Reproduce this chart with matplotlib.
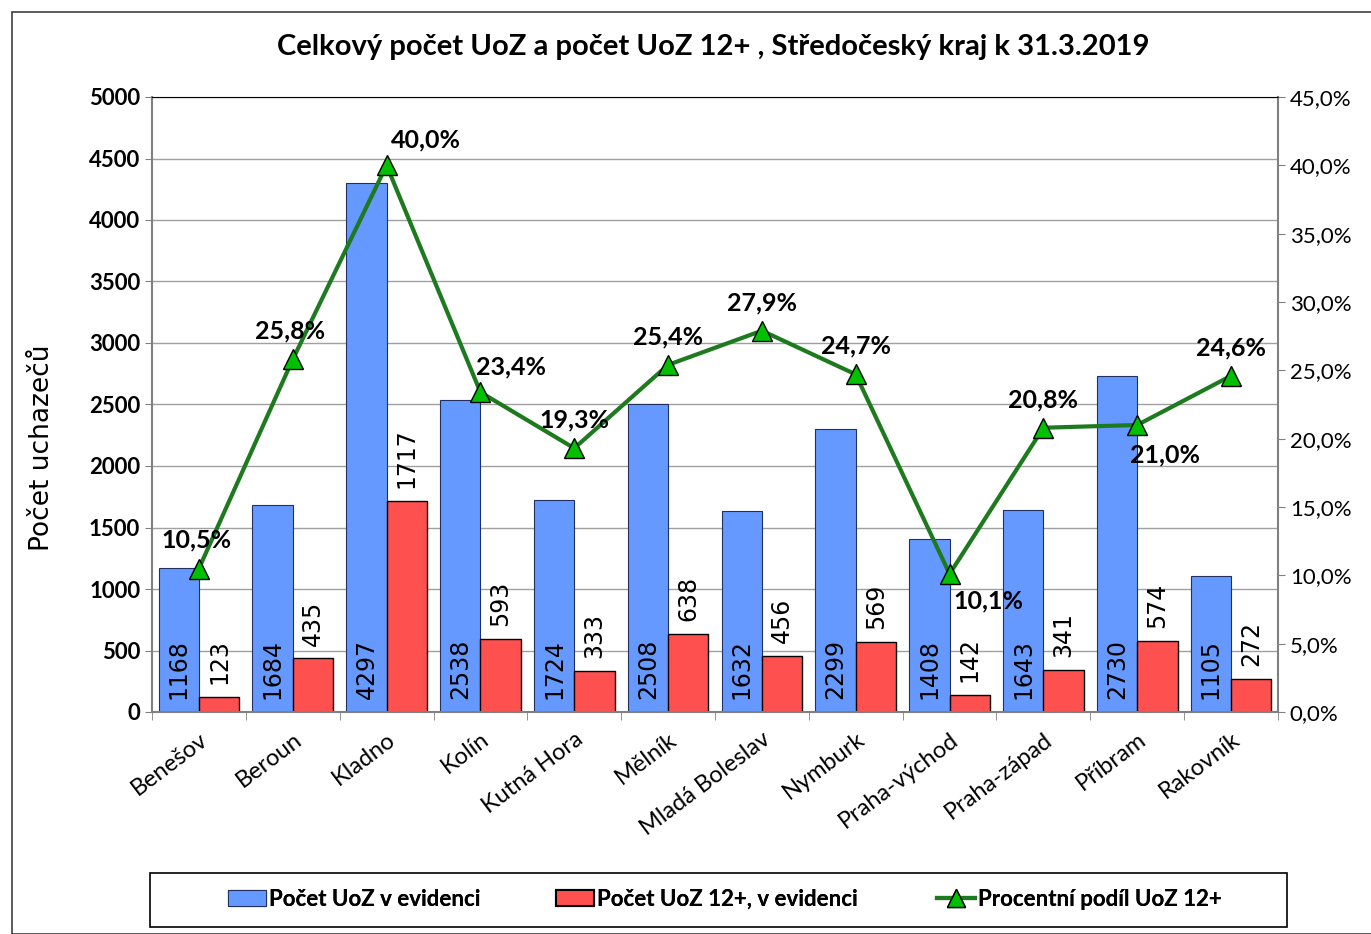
import numpy as np
import matplotlib
matplotlib.use("Agg")
import matplotlib.pyplot as plt
from matplotlib.patches import Rectangle, Patch
from matplotlib.lines import Line2D
from matplotlib.ticker import FuncFormatter

plt.rcParams['font.family'] = ['Lato', 'DejaVu Sans']

# data
okresy = ["Benešov", "Beroun", "Kladno", "Kolín", "Kutná Hora", "Mělník",
          "Mladá Boleslav", "Nymburk", "Praha-východ", "Praha-západ",
          "Příbram", "Rakovník"]
uoz_celkem = [1168, 1684, 4297, 2538, 1724, 2508, 1632, 2299, 1408, 1643, 2730, 1105]
uoz_12plus = [123, 435, 1717, 593, 333, 638, 456, 569, 142, 341, 574, 272]
podil = [10.5, 25.8, 40.0, 23.4, 19.3, 25.4, 27.9, 24.7, 10.1, 20.8, 21.0, 24.6]

# label offsets (points) for percentage labels
offsets = [(-2, 12), (-2, 12), (28, 10), (22, 10), (0, 12), (0, 12),
           (0, 12), (0, 12), (28, -28), (0, 12), (20, -30), (0, 12)]

fig = plt.figure(figsize=(13.71, 9.34), dpi=100)
fig.patches.append(Rectangle((12 / 1371, 0.0), 1.0, 1 - 12 / 934, transform=fig.transFigure,
                             fill=False, edgecolor="#404040", linewidth=1.2))
ax = fig.add_axes([152 / 1371, 1 - 712 / 934, (1278 - 152) / 1371, (712 - 97) / 934])

x = np.arange(len(okresy))
w = 0.43
ax.bar(x - w / 2, uoz_celkem, w, color="#6699FF", edgecolor="#203060", linewidth=0.8, zorder=2)
ax.bar(x + w / 2, uoz_12plus, w, color="#FF5050", edgecolor="black", linewidth=1.0, zorder=2)

for xi, v in zip(x, uoz_celkem):
    ax.text(xi - w / 2, 105, str(v), rotation=90, ha="center", va="bottom",
            fontsize=17, fontfamily="DejaVu Sans", zorder=3)
for xi, v in zip(x, uoz_12plus):
    ax.text(xi + w / 2, v + 105, str(v), rotation=90, ha="center", va="bottom",
            fontsize=17, fontfamily="DejaVu Sans", zorder=3)

ax.set_xlim(-0.5, len(okresy) - 0.5)
ax.set_ylim(0, 5000)
ax.set_yticks(np.arange(0, 5001, 500))
ax.yaxis.grid(True, color="#A0A0A0", linewidth=1.0, zorder=0)
ax.set_axisbelow(True)
ax.set_xticks(x)
ax.set_xticklabels(okresy, rotation=37, ha="right", rotation_mode="anchor", fontsize=17)
ax.set_xticks(np.arange(-0.5, len(okresy)), minor=True)
ax.tick_params(axis="x", which="major", length=0, pad=12)
ax.tick_params(axis="x", which="minor", length=6, color="#808080")
ax.tick_params(axis="y", length=5, color="#808080", labelsize=16)
for lbl in ax.get_yticklabels():
    lbl.set_fontweight("bold")
ax.set_ylabel("Počet uchazečů", fontsize=19, fontfamily="DejaVu Sans")
ax.yaxis.set_label_coords(-0.086, 0.43)
for s in ["left", "bottom"]:
    ax.spines[s].set_color("#808080")
    ax.spines[s].set_linewidth(1.5)
ax.spines["top"].set_color("black")
ax.spines["right"].set_color("#808080")
ax.spines["right"].set_linewidth(1.5)

ax2 = ax.twinx()
ax2.set_position(ax.get_position())
ax2.plot(x, podil, color="#1E7A1E", linewidth=3, marker="^", markersize=15,
         markerfacecolor="#00C000", markeredgecolor="black", markeredgewidth=1, zorder=4)
ax2.set_ylim(0, 45)
ax2.set_yticks(np.arange(0, 45.1, 5))
ax2.yaxis.set_major_formatter(FuncFormatter(lambda v, p: f"{v:.1f}%".replace(".", ",")))
ax2.tick_params(axis="y", length=5, color="#808080", labelsize=16)
for s in ax2.spines.values():
    s.set_visible(False)

for xi, p, off in zip(x, podil, offsets):
    ax2.annotate(f"{p:.1f}%".replace(".", ","), (xi, p), xytext=off, textcoords="offset points",
                 ha="center", va="bottom", fontsize=18, fontweight="bold", zorder=5)

fig.text(0.52, 0.95, "Celkový počet UoZ a počet UoZ 12+ , Středočeský kraj k 31.3.2019",
         ha="center", va="center", fontsize=21, fontweight="bold")

# legend
fig.patches.append(Rectangle((150 / 1371, 1 - 927 / 934), (1287 - 150) / 1371, 54 / 934,
                             transform=fig.transFigure, fill=False, edgecolor="black", linewidth=1.2))
h1 = Patch(facecolor="#6699FF", edgecolor="#203060", linewidth=0.8)
h2 = Patch(facecolor="#FF5050", edgecolor="black", linewidth=1.5)
h3 = Line2D([], [], color="#1E7A1E", linewidth=3, marker="^", markersize=13,
            markerfacecolor="#00C000", markeredgecolor="black", markeredgewidth=1)
leg_y = 1 - 899 / 934
for hx, h, txt in [(228, h1, "Počet UoZ v evidenci"), (556, h2, "Počet UoZ 12+, v evidenci"),
                   (937, h3, "Procentní podíl UoZ 12+")]:
    leg = fig.legend([h], [txt], loc="center left", bbox_to_anchor=(hx / 1371, leg_y),
                     frameon=False, prop={"weight": "bold", "size": 16},
                     handlelength=1.7, handletextpad=0.15, borderaxespad=0, borderpad=0)
    fig.add_artist(leg)

fig.savefig("out.png", dpi=100)
